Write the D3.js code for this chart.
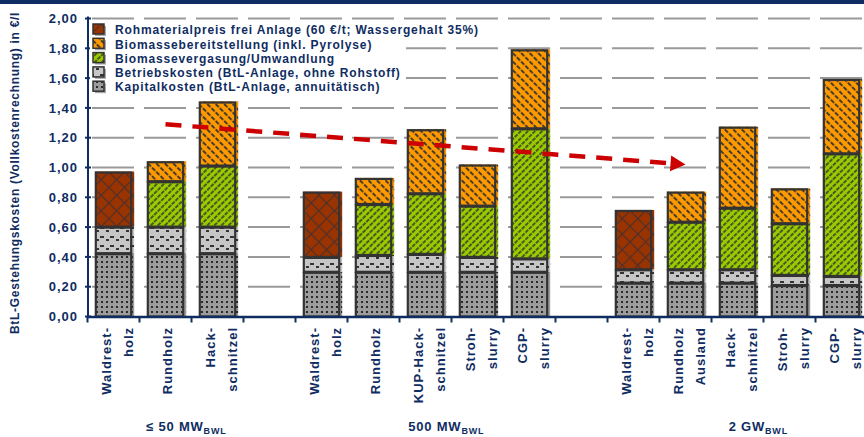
<!DOCTYPE html>
<html><head><meta charset="utf-8">
<script src="https://cdn.jsdelivr.net/npm/d3@7"></script>
<style>
html,body{margin:0;padding:0;background:#fff;}
svg{display:block;font-family:"Liberation Sans",Arial,sans-serif;}
</style></head>
<body><svg id="c" width="864" height="437"></svg>
<script>
// ---------- data ----------
const categories = ["g1_wrh","g1_rh","g1_hs","gap1","g2_wrh","g2_rh","g2_kup","g2_stroh","g2_cgp","gap2","g3_wrh","g3_rh","g3_hs","g3_stroh","g3_cgp"];
const categoryLabels = [["Waldrest-","holz"],["Rundholz"],["Hack-","schnitzel"],[],["Waldrest-","holz"],["Rundholz"],["KUP-Hack-","schnitzel"],["Stroh-","slurry"],["CGP-","slurry"],[],["Waldrest-","holz"],["Rundholz","Ausland"],["Hack-","schnitzel"],["Stroh-","slurry"],["CGP-","slurry"]];
const groupLabels = [{mid:"g1_rh", text:"≤ 50 MW", sub:"BWL"},{mid:"g2_kup", text:"500 MW", sub:"BWL"},{mid:"g3_hs", text:"2 GW", sub:"BWL"}];

const kapitalkosten   = [0.425,0.425,0.425,0, 0.30,0.30,0.30,0.30,0.30, 0, 0.227,0.227,0.227,0.211,0.211];
const betriebskosten  = [0.178,0.178,0.178,0, 0.10,0.113,0.12,0.10,0.09, 0, 0.09,0.09,0.09,0.068,0.061];
const biomasseUmwandlung     = [0,0.305,0.41,0, 0,0.342,0.407,0.344,0.873, 0, 0,0.319,0.413,0.347,0.823];
const biomasseBereitstellung = [0,0.134,0.43,0, 0,0.175,0.43,0.276,0.53, 0, 0,0.202,0.544,0.234,0.499];
const rohmaterialpreis = [0.37,0,0,0, 0.438,0,0,0,0, 0, 0.398,0,0,0,0];

const yTicks = [0,0.2,0.4,0.6,0.8,1.0,1.2,1.4,1.6,1.8,2.0];
const legendLabels = [
  "Rohmaterialpreis frei Anlage (60 €/t; Wassergehalt 35%)",
  "Biomassebereitstellung (inkl. Pyrolyse)",
  "Biomassevergasung/Umwandlung",
  "Betriebskosten (BtL-Anlage, ohne Rohstoff)",
  "Kapitalkosten (BtL-Anlage, annuitätisch)"
];
const yTitle = "BtL-Gestehungskosten (Vollkostenrechnung) in €/l";
const trendArrow = [{cat:"g1_rh", value:1.29},{cat:"g3_rh", value:1.02}];

// ---------- setup ----------
const navy = "#0f2d62";
const svg = d3.select("#c");
const x = d3.scaleBand().domain(categories).range([87.5, 867.5]).paddingInner(0.3).paddingOuter(0.15);
const y = d3.scaleLinear().domain([0,2]).range([316.5, 18.5]);
const step = x.step();

// top rule
svg.append("rect").attr("x",0).attr("y",0).attr("width",864).attr("height",4).attr("fill",navy);

// patterns
const defs = svg.append("defs");
function pat(id, w, h, bg, rot){
  const p = defs.append("pattern").attr("id",id).attr("patternUnits","userSpaceOnUse").attr("width",w).attr("height",h);
  if(rot!==undefined) p.attr("patternTransform",`rotate(${rot})`);
  p.append("rect").attr("width",w).attr("height",h).attr("fill",bg);
  return p;
}
let p = pat("pKap",5,5,"#9c9c9c");
p.append("rect").attr("x",1).attr("y",1).attr("width",2).attr("height",2).attr("fill","#2a2a2a");
p = pat("pBetr",10,9,"#c6c6c6");
p.append("rect").attr("x",0).attr("y",2).attr("width",4).attr("height",2).attr("fill","#333");
p.append("rect").attr("x",6).attr("y",5).attr("width",3).attr("height",2).attr("fill","#333");
p = pat("pGreen",5,5,"#99cc00",45);
p.append("line").attr("x1",1).attr("y1",0).attr("x2",1).attr("y2",5).attr("stroke","#3a3a2a").attr("stroke-width",1.6).attr("stroke-dasharray","3,1");
p = pat("pOrange",6,6,"#ff9900",-45);
p.append("line").attr("x1",1).attr("y1",0).attr("x2",1).attr("y2",6).attr("stroke","#333").attr("stroke-width",1.8).attr("stroke-dasharray","2.5,1.5");
p = pat("pBrown",11,11,"#993300",45);
p.append("line").attr("x1",0.5).attr("y1",0).attr("x2",0.5).attr("y2",11).attr("stroke","#4a3030").attr("stroke-width",1.2);
p.append("line").attr("x1",0).attr("y1",0.5).attr("x2",11).attr("y2",0.5).attr("stroke","#4a3030").attr("stroke-width",1.2);

// gridlines
svg.append("g").selectAll("line").data(yTicks.filter(d=>d>0)).join("line")
  .attr("x1",89).attr("x2",864).attr("y1",d=>y(d)).attr("y2",d=>y(d))
  .attr("stroke","#9a9a9a").attr("stroke-width",2).attr("stroke-dasharray","42,10").attr("stroke-dashoffset",-3);

// bars
const series = [
  {key:"kap", vals:kapitalkosten, fill:"url(#pKap)"},
  {key:"betr", vals:betriebskosten, fill:"url(#pBetr)"},
  {key:"umw", vals:biomasseUmwandlung, fill:"url(#pGreen)"},
  {key:"ber", vals:biomasseBereitstellung, fill:"url(#pOrange)"},
  {key:"roh", vals:rohmaterialpreis, fill:"url(#pBrown)"}
];
const table = categories.map((c,i)=>{ const o={cat:c}; series.forEach(s=>o[s.key]=s.vals[i]); return o; });
const stack = d3.stack().keys(series.map(s=>s.key))(table);
const bw = x.bandwidth();
stack.forEach((layer,li)=>{
  const segs = layer.filter(d=>d[1]-d[0]>0);
  svg.append("g").selectAll("rect").data(segs).join("rect")
    .attr("x",d=>x(d.data.cat)).attr("width",bw+2.5)
    .attr("y",d=>y(d[1])).attr("height",d=>y(d[0])-y(d[1]))
    .attr("fill",series[li].fill);
});
stack.forEach((layer,li)=>{
  const segs = layer.filter(d=>d[1]-d[0]>0);
  svg.append("g").selectAll("rect").data(segs).join("rect")
    .attr("x",d=>x(d.data.cat)+0.5).attr("width",bw-1)
    .attr("y",d=>y(d[1])+1).attr("height",d=>y(d[0])-y(d[1])-1)
    .attr("fill","none").attr("stroke","#333").attr("stroke-width",2.2);
});

// axes
svg.append("line").attr("x1",87.5).attr("x2",864).attr("y1",y(0)+0.5).attr("y2",y(0)+0.5).attr("stroke",navy).attr("stroke-width",2.5);
svg.append("g").selectAll("line").data(d3.range(categories.length+1)).join("line")
  .attr("x1",i=>87.5+i*step).attr("x2",i=>87.5+i*step).attr("y1",y(0)).attr("y2",y(0)+6)
  .attr("stroke",navy).attr("stroke-width",2);
svg.append("line").attr("x1",88).attr("x2",88).attr("y1",y(2)-2).attr("y2",y(0)+1).attr("stroke",navy).attr("stroke-width",2);
svg.append("g").selectAll("line").data(yTicks).join("line")
  .attr("x1",85).attr("x2",91).attr("y1",d=>y(d)).attr("y2",d=>y(d)).attr("stroke",navy).attr("stroke-width",2);
svg.append("g").selectAll("text").data(yTicks).join("text")
  .attr("x",78).attr("y",d=>y(d)).attr("dy","0.36em").attr("text-anchor","end")
  .attr("font-size",13).attr("font-weight","bold").attr("letter-spacing",1).attr("fill",navy)
  .text(d=>d.toFixed(2).replace(".",","));
svg.append("text").attr("transform","translate(19,334) rotate(-90)")
  .attr("font-size",12).attr("font-weight","bold").attr("letter-spacing",0.7).attr("fill",navy).text(yTitle);

// x labels
categories.forEach((c,i)=>{
  const lines = categoryLabels[i];
  if(!lines.length) return;
  const cx = x(c)+bw/2;
  const g = svg.append("g").attr("transform",`translate(${cx},327) rotate(-90)`);
  const offs = lines.length===1 ? [6.5] : [-3,19];
  lines.forEach((t,j)=>{
    g.append("text").attr("x",0).attr("y",offs[j]).attr("text-anchor","end")
      .attr("font-size",13).attr("font-weight","bold").attr("letter-spacing",1).attr("fill",navy).text(t);
  });
});

// group labels
groupLabels.forEach(gl=>{
  const t = svg.append("text").attr("x",x(gl.mid)+bw/2+0.4*step).attr("y",431).attr("text-anchor","middle")
    .attr("font-size",13).attr("font-weight","bold").attr("letter-spacing",0.8).attr("fill",navy);
  t.append("tspan").text(gl.text);
  t.append("tspan").attr("font-size",9).attr("dy",3).text(gl.sub);
});

// legend
const lg = svg.append("g");
lg.append("rect").attr("x",90).attr("y",22).attr("width",316).attr("height",73).attr("fill","#fff");
const legFills = ["url(#pBrown)","url(#pOrange)","url(#pGreen)","url(#pBetr)","url(#pKap)"];
legendLabels.forEach((t,i)=>{
  const yy = 30 + i*14.3;
  lg.append("rect").attr("x",95).attr("y",yy-4).attr("width",11).attr("height",10).attr("fill","#aaa");
  lg.append("rect").attr("x",93).attr("y",yy-6).attr("width",11).attr("height",10).attr("fill",legFills[i]).attr("stroke","#333").attr("stroke-width",1.5);
  lg.append("text").attr("x",115).attr("y",yy).attr("dy","0.35em").attr("font-size",12).attr("font-weight","bold")
    .attr("letter-spacing",0.85).attr("fill",navy).text(t);
});

// trend arrow
const [a0,a1] = trendArrow.map(d=>[x(d.cat)+bw/2, y(d.value)]);
const ang = Math.atan2(a1[1]-a0[1], a1[0]-a0[0]);
const hl = 15, hw = 8;
const bx = a1[0]-hl*Math.cos(ang), by = a1[1]-hl*Math.sin(ang);
svg.append("line").attr("x1",a0[0]).attr("y1",a0[1]).attr("x2",bx).attr("y2",by)
  .attr("stroke","#cc0000").attr("stroke-width",4.5).attr("stroke-dasharray","16,11");
svg.append("path").attr("d",`M${a1[0]},${a1[1]}L${bx-hw*Math.sin(ang)},${by+hw*Math.cos(ang)}L${bx+hw*Math.sin(ang)},${by-hw*Math.cos(ang)}Z`)
  .attr("fill","#cc0000");
</script></body></html>
